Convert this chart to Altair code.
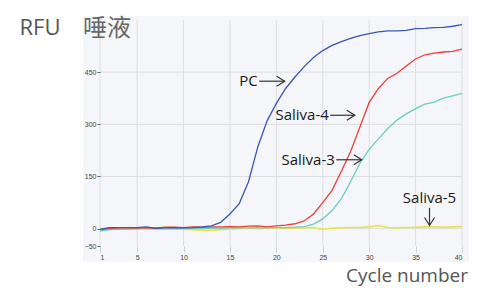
import altair as alt
import pandas as pd

cycles = list(range(1, 41))
pc = [-2, 3, 3, 3, 3, 5, 1, 2, 3, 2, 3, 5, 8, 18, 42, 72, 135, 235, 310, 360,
      403, 436, 466, 492, 512, 527, 538, 547, 555, 561, 566, 569, 569, 570, 575, 576, 578, 579, 582, 587]
saliva4 = [-3, 0, 2, 2, 2, 2, 1, 4, 4, 3, 5, 4, 5, 5, 6, 5, 7, 8, 5, 8,
           10, 14, 22, 42, 75, 110, 165, 222, 292, 363, 403, 432, 447, 468, 488, 500, 505, 508, 510, 516]
saliva3 = [-7, -3, -2, -2, -1, -1, 0, -1, 0, 0, 1, 0, 1, 1, 2, 2, 2, 3, 2, 3,
           3, 4, 6, 13, 28, 52, 86, 135, 188, 228, 258, 288, 312, 330, 345, 358, 364, 375, 382, 389]
saliva5 = [0, 0, -1, 0, 0, 1, 0, 0, -1, -2, -3, -5, -5, -3, -2, 0, 1, 0, 1, 2,
           1, 2, 2, 3, -2, 1, 2, 3, 3, 5, 9, 3, 2, 3, 4, 5, 5, 4, 5, 6]

series_names = ["Saliva-5", "Saliva-3", "Saliva-4", "PC"]
series_vals = [saliva5, saliva3, saliva4, pc]
series_colors = ["#ece24e", "#6ccdc2", "#f03c3c", "#3a58b3"]
series_widths = [1.6, 1.3, 1.3, 1.3]

x_ticks = [1, 5, 10, 15, 20, 25, 30, 35, 40]
y_ticks = [-50, 0, 150, 300, 450]
y_grid = [0, 150, 300, 450]

# annotations: label, text end x, y, arrow start x, arrow end x
ann_labels = ["PC", "Saliva-4", "Saliva-3"]
ann_text_x = [18.0, 25.65, 26.3]
ann_y = [424, 326, 198]
ann_arrow_x0 = [18.15, 25.8, 26.45]
ann_arrow_x1 = [20.9, 28.45, 29.2]

s5_label_x = 36.5
s5_label_y = 89
s5_arrow_y0 = 60
s5_arrow_y1 = 9

xscale = alt.Scale(domain=[1, 40], nice=False, zero=False)
yscale = alt.Scale(domain=[-50, 600], nice=False, zero=False)

one = pd.DataFrame({"a": [0]})

panel = alt.Chart(one).mark_rect(color="#f4f6f9").encode(
    x=alt.value(-17), x2=alt.value(369), y=alt.value(-4), y2=alt.value(242)
)

vgrid = alt.Chart(pd.DataFrame({"g": x_ticks})).mark_rule(color="#dedede", strokeWidth=1).encode(
    x=alt.X("g:Q", scale=xscale,
            axis=alt.Axis(values=x_ticks, grid=False, domain=False, tickColor="#d0d0d0",
                          tickSize=6, labelFontSize=7, labelColor="#444", labelPadding=1,
                          labelFont="Liberation Sans", zindex=1, title=None)),
    y=alt.value(0), y2=alt.value(226)
)
hgrid = alt.Chart(pd.DataFrame({"g": y_grid})).mark_rule(color="#dedede", strokeWidth=1).encode(
    y=alt.Y("g:Q", scale=yscale,
            axis=alt.Axis(values=y_ticks, grid=False, domain=False, tickColor="#666",
                          tickSize=3, labelFontSize=7, labelColor="#444", labelPadding=1,
                          labelFont="Liberation Sans", zindex=1, title=None)),
    x=alt.value(0), x2=alt.value(362)
)

layers = [panel, vgrid, hgrid]
for name, vals, col, w in zip(series_names, series_vals, series_colors, series_widths):
    df = pd.DataFrame({"cycle": cycles, "rfu": vals})
    layers.append(
        alt.Chart(df).mark_line(color=col, strokeWidth=w).encode(
            x=alt.X("cycle:Q", scale=xscale), y=alt.Y("rfu:Q", scale=yscale))
    )

ann_df = pd.DataFrame({
    "label": ann_labels, "tx": ann_text_x, "y": ann_y,
    "x0": ann_arrow_x0, "x1": ann_arrow_x1,
})
layers.append(
    alt.Chart(ann_df).mark_text(align="right", baseline="middle", fontSize=15,
                                font="Open Sans", color="#1a1a1a").encode(
        x=alt.X("tx:Q", scale=xscale), y=alt.Y("y:Q", scale=yscale), text="label:N")
)
layers.append(
    alt.Chart(ann_df).mark_rule(color="#333", strokeWidth=1.2).encode(
        x=alt.X("x0:Q", scale=xscale), x2="x1:Q", y=alt.Y("y:Q", scale=yscale))
)
layers.append(
    alt.Chart(ann_df).mark_point(shape="M-1.6,-1L0,0L-1.6,1", filled=False,
                                 size=100, color="#333", strokeWidth=1.2, opacity=1).encode(
        x=alt.X("x1:Q", scale=xscale), y=alt.Y("y:Q", scale=yscale))
)

s5_df = pd.DataFrame({"label": ["Saliva-5"], "x": [s5_label_x], "y": [s5_label_y],
                      "y0": [s5_arrow_y0], "y1": [s5_arrow_y1]})
layers.append(
    alt.Chart(s5_df).mark_text(align="center", baseline="middle", fontSize=15,
                               font="Open Sans", color="#1a1a1a").encode(
        x=alt.X("x:Q", scale=xscale), y=alt.Y("y:Q", scale=yscale), text="label:N")
)
layers.append(
    alt.Chart(s5_df).mark_rule(color="#333", strokeWidth=1.2).encode(
        x=alt.X("x:Q", scale=xscale), y=alt.Y("y0:Q", scale=yscale), y2="y1:Q")
)
layers.append(
    alt.Chart(s5_df).mark_point(shape="M-1,-1.6L0,0L1,-1.6", filled=False,
                                size=100, color="#333", strokeWidth=1.2, opacity=1).encode(
        x=alt.X("x:Q", scale=xscale), y=alt.Y("y1:Q", scale=yscale))
)

layers.append(
    alt.Chart(one).mark_text(text="RFU", align="center", baseline="middle",
                             fontSize=22, font="Open Sans", color="#555").encode(
        x=alt.value(-60), y=alt.value(8))
)
layers.append(
    alt.Chart(one).mark_text(text="唾液", align="left", baseline="middle",
                             fontSize=24, font="Noto Sans CJK SC", color="#666").encode(
        x=alt.value(-17), y=alt.value(9))
)
layers.append(
    alt.Chart(one).mark_text(text="Cycle number", align="right", baseline="alphabetic",
                             fontSize=19, font="Open Sans", color="#555").encode(
        x=alt.value(368), y=alt.value(262))
)

chart = alt.layer(*layers).properties(
    width=362, height=226,
    autosize=alt.AutoSizeParams(type="none"),
    padding={"left": 92, "top": 12, "right": 7, "bottom": 44},
    background="white",
).configure_view(stroke=None)

chart.save("out.html", embed_options={"renderer": "svg", "actions": False})
